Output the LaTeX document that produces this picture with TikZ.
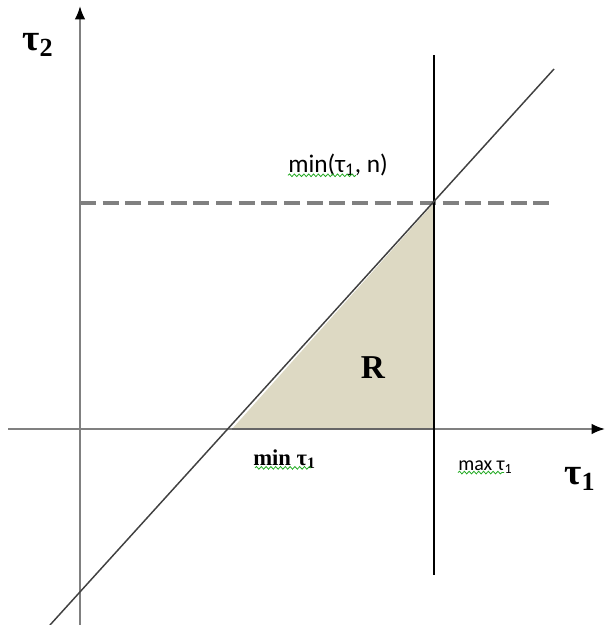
\documentclass[tikz,border=0pt]{standalone}
\usepackage{fontspec}
\setmainfont{Liberation Serif}
\newfontfamily\calib{Carlito}
\usetikzlibrary{arrows.meta,decorations.pathmorphing}
\definecolor{tanfill}{HTML}{DDD9C3}
\definecolor{axisgray}{HTML}{808080}
\definecolor{diaggray}{HTML}{404040}
\definecolor{squig}{HTML}{22AA22}
\tikzset{
  axisline/.style={draw=axisgray,line width=1.6pt,-{Latex[length=10pt,width=8pt,fill=black,color=black]}},
  lbl/.style={inner sep=0pt,text=black},
  squiggle/.style={draw=squig,line width=0.6pt,decorate,decoration={snake,amplitude=1pt,segment length=3.6pt}}
}
\begin{document}
\begin{tikzpicture}[x=0.75pt,y=-0.75pt]
\useasboundingbox (0,0) rectangle (605,625);
% key points
\coordinate (A) at (232,429);
\coordinate (B) at (434,203);
\coordinate (C) at (434,429);
\coordinate (vtop) at (434,55);
\coordinate (vbot) at (434,575);
\coordinate (dl) at (80,203);
\coordinate (dr) at (555,203);
\coordinate (gtop) at (554,69);
\coordinate (gbot) at (50,625);
\coordinate (yb) at (80,625);
\coordinate (yt) at (80,6);
\coordinate (xl) at (8,429);
\coordinate (xr) at (605,429);
% region R
\fill[tanfill] (A) -- (B) -- (C) -- cycle;
% dashed line
\draw[axisgray,line width=2.4pt,dash pattern=on 12pt off 5pt] (dl) -- (dr);
% axes
\draw[axisline] (yb) -- (yt);
\draw[axisline] (xl) -- (xr);
\draw[line width=1.6pt,color=diaggray!80] (A) -- (C);
% vertical line
\draw[black,line width=1.2pt] (vtop) -- (vbot);
% diagonal
\draw[diaggray,line width=1.1pt] (gbot) -- (gtop);
% labels
\node[lbl,font=\bfseries\fontsize{28}{30}\selectfont] (t2) at (38,45) {τ\textsubscript{2}};
\node[lbl,font=\bfseries\fontsize{28}{30}\selectfont] (t1) at (580,479) {τ\textsubscript{1}};
\node[lbl,font=\bfseries\fontsize{25}{27}\selectfont] (R) at (373,368) {R};
\node[lbl,font=\calib\fontsize{19}{21}\selectfont,anchor=west] (mintn) at (288,165) {min(τ\textsubscript{1}, n)};
\node[lbl,font=\bfseries\fontsize{17}{19}\selectfont,anchor=west] (mint) at (253,459) {min τ\textsubscript{1}};
\node[lbl,font=\calib\fontsize{15}{17}\selectfont,anchor=west] (maxt) at (458,467) {max τ\textsubscript{1}};
% spell-check squiggles
\draw[squiggle] (mintn.south west) ++(0,-1) -- ++(68,0);
\draw[squiggle] (mint.south west) ++(2,-1) -- ++(56,0);
\draw[squiggle] (maxt.south west) ++(0,-1) -- ++(46,0);
\end{tikzpicture}
\end{document}
